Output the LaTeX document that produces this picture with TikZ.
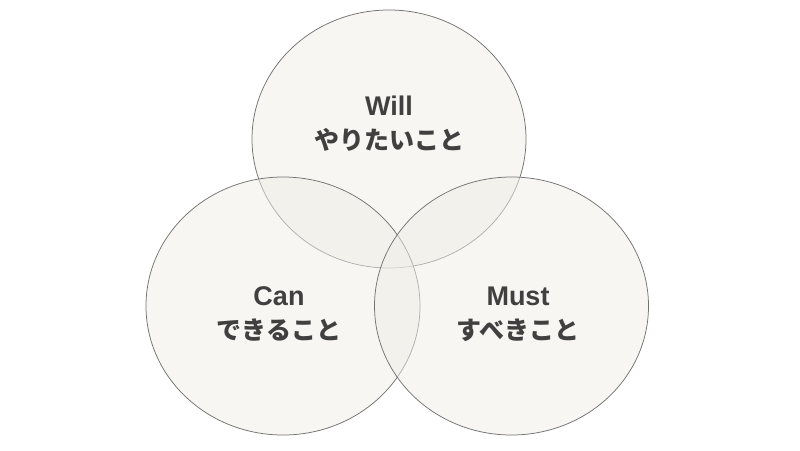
\documentclass[tikz,border=0pt]{standalone}
\usepackage{fontspec}
\setmainfont{Liberation Sans}
\newfontfamily\jpfont{Noto Sans CJK JP}
\definecolor{ringfill}{RGB}{240,238,231}
\definecolor{ringline}{RGB}{115,115,115}
\definecolor{txt}{RGB}{64,64,64}
\begin{document}
\begin{tikzpicture}[x=1pt,y=-1pt,
  ring/.style={draw=ringline,line width=0.75pt,fill=ringfill,fill opacity=0.5},
  lbl/.style={align=center,text=txt,font=\bfseries\fontsize{27}{34}\selectfont,inner sep=0pt},
  jp/.style={}]
\useasboundingbox (0,0) rectangle (800,450);
\fill[white] (0,0) rectangle (800,450);
\path[ring] (389,139) ellipse [x radius=137, y radius=129];
\path[ring] (283,306) ellipse [x radius=137, y radius=129];
\path[ring] (511.5,306) ellipse [x radius=137, y radius=129];
\node[lbl] (will) at (389,124) {Will\\{\jpfont\bfseries\fontsize{25}{34}\selectfont やりたいこと}};
\node[lbl] (can) at (279,314) {Can\\{\jpfont\bfseries\fontsize{25}{34}\selectfont できること}};
\node[lbl] (must) at (518,314) {Must\\{\jpfont\bfseries\fontsize{25}{34}\selectfont すべきこと}};
\end{tikzpicture}
\end{document}
